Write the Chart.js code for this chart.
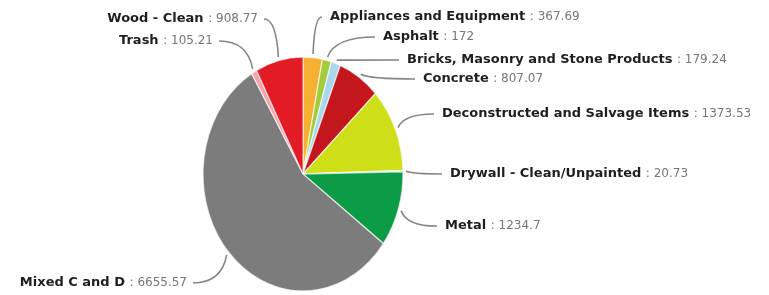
<!DOCTYPE html>
<html>
<head>
<meta charset="utf-8">
<script src="https://cdn.jsdelivr.net/npm/chart.js@4.4.1/dist/chart.umd.min.js"></script>
<style>
  html, body { margin: 0; padding: 0; background: #ffffff; }
  #wrap { width: 769px; height: 295px; position: relative; }
</style>
</head>
<body>
<div id="wrap"><canvas id="c" width="769" height="295"></canvas></div>
<script>
// ---- data ----
const categories = [
  'Appliances and Equipment',
  'Asphalt',
  'Bricks, Masonry and Stone Products',
  'Concrete',
  'Deconstructed and Salvage Items',
  'Drywall - Clean/Unpainted',
  'Metal',
  'Mixed C and D',
  'Trash',
  'Wood - Clean'
];
const tonnage = [367.69, 172, 179.24, 807.07, 1373.53, 20.73, 1234.7, 6655.57, 105.21, 908.77];
const valueLabels = ['367.69', '172', '179.24', '807.07', '1373.53', '20.73', '1234.7', '6655.57', '105.21', '908.77'];
const sliceColors = ['#F6B132', '#A3CC3A', '#A9D8EC', '#C4171D', '#CEDF17', '#86E08E', '#0C9C48', '#7C7C7C', '#F5A4AC', '#E21B25'];

// label layout (text anchor: x,y; side 'r' = text to the right of the anchor, 'l' = text ends at anchor)
const labelLayout = [
  {x: 330, y: 17, side: 'r'},
  {x: 383, y: 37, side: 'r'},
  {x: 407, y: 60, side: 'r'},
  {x: 423, y: 79, side: 'r'},
  {x: 442, y: 114, side: 'r'},
  {x: 450, y: 174, side: 'r'},
  {x: 445, y: 226, side: 'r'},
  {x: 187, y: 283, side: 'l'},
  {x: 213, y: 41, side: 'l'},
  {x: 258, y: 19, side: 'l'}
];
const Y_STRETCH = 1.17;

const ellipsePlugin = {
  id: 'ellipse',
  beforeDatasetsDraw(chart) {
    const meta = chart.getDatasetMeta(0);
    const el = meta.data[0];
    const ctx = chart.ctx;
    ctx.save();
    ctx.translate(el.x, el.y);
    ctx.scale(1, Y_STRETCH);
    ctx.translate(-el.x, -el.y);
  },
  afterDatasetsDraw(chart) {
    chart.ctx.restore();
  }
};

const labelPlugin = {
  id: 'pieLabels',
  afterDraw(chart) {
    const ctx = chart.ctx;
    const meta = chart.getDatasetMeta(0);
    const nameFont = 'bold 13px "DejaVu Sans", sans-serif';
    const valFont = '12px "DejaVu Sans", sans-serif';
    meta.data.forEach((arc, i) => {
      const lay = labelLayout[i];
      const mid = (arc.startAngle + arc.endAngle) / 2;
      const r = arc.outerRadius + 3;
      const sx = arc.x + Math.cos(mid) * r;
      const sy = arc.y + Math.sin(mid) * r * Y_STRETCH;
      const ex = lay.side === 'r' ? lay.x - 8 : lay.x + 6;
      const ey = lay.y;
      const cx = sx + (ex - sx) * 0.15;
      const cy = ey;
      ctx.save();
      ctx.strokeStyle = '#858585';
      ctx.lineWidth = 1.6;
      ctx.beginPath();
      ctx.moveTo(sx, sy);
      ctx.quadraticCurveTo(cx, cy, ex, ey);
      ctx.stroke();

      const name = categories[i] + ' ';
      const val = ': ' + valueLabels[i];
      ctx.textBaseline = 'middle';
      ctx.textAlign = 'left';
      ctx.font = nameFont;
      const nw = ctx.measureText(name).width;
      ctx.font = valFont;
      const vw = ctx.measureText(val).width;
      const x0 = lay.side === 'r' ? lay.x : lay.x - nw - vw;
      ctx.font = nameFont;
      ctx.fillStyle = '#1e1e1e';
      ctx.fillText(name, x0, lay.y);
      ctx.font = valFont;
      ctx.fillStyle = '#767676';
      ctx.fillText(val, x0 + nw, lay.y);
      ctx.restore();
    });
  }
};

new Chart(document.getElementById('c'), {
  type: 'pie',
  data: {
    labels: categories,
    datasets: [{
      data: tonnage,
      backgroundColor: sliceColors,
      borderColor: 'rgba(255,255,255,0.65)',
      borderWidth: 1.2
    }]
  },
  options: {
    responsive: false,
    animation: false,
    radius: 100,
    layout: { padding: { left: 203, right: 366, top: 74, bottom: 21 } },
    plugins: {
      legend: { display: false },
      tooltip: { enabled: false }
    }
  },
  plugins: [ellipsePlugin, labelPlugin]
});
</script>
</body>
</html>
